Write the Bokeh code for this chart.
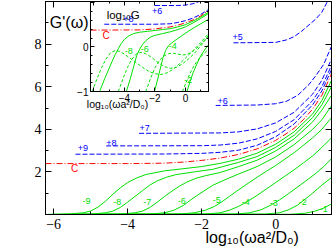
from bokeh.plotting import figure
from bokeh.models import Range1d, LinearAxis, FixedTicker
from bokeh.layouts import column
from bokeh.core.properties import value
from bokeh.embed import file_html
from bokeh.resources import INLINE

# ---------------- main panel: G'(omega) versus log10(omega a^2/D0) ----------------
# liquid side (green, solid)
liq_m9_x = [-6.22, -5.6, -5.2, -5.0, -4.8, -4.6, -4.4, -4.2, -4.0, -3.75, -3.5, -3.0, -2.5, -2.0, -1.5, -1.0, -0.5, 0.0, 0.5, 1.0, 1.25, 1.51]
liq_m9_y = [0.0, 0.02, 0.08, 0.16, 0.35, 0.62, 0.95, 1.25, 1.5, 1.72, 1.88, 2.05, 2.15, 2.25, 2.4, 2.6, 2.88, 3.3, 3.88, 4.72, 5.35, 6.3]
liq_m8_x = [-6.22, -5.0, -4.6, -4.4, -4.2, -4.0, -3.8, -3.6, -3.4, -3.2, -2.95, -2.7, -2.2, -1.7, -1.0, -0.5, 0.0, 0.5, 1.0, 1.25, 1.51]
liq_m8_y = [0.0, 0.02, 0.08, 0.16, 0.33, 0.58, 0.85, 1.12, 1.38, 1.58, 1.75, 1.87, 2.0, 2.12, 2.45, 2.72, 3.15, 3.72, 4.55, 5.15, 6.0]
liq_m7_x = [-6.22, -4.2, -3.8, -3.6, -3.4, -3.2, -3.0, -2.8, -2.6, -2.4, -2.15, -1.9, -1.5, -1.0, -0.5, 0.0, 0.5, 1.0, 1.25, 1.51]
liq_m7_y = [0.0, 0.02, 0.08, 0.16, 0.33, 0.58, 0.85, 1.1, 1.33, 1.52, 1.7, 1.82, 1.97, 2.25, 2.55, 2.98, 3.55, 4.35, 4.9, 5.6]
liq_m6_x = [-6.22, -3.4, -3.0, -2.75, -2.5, -2.3, -2.1, -1.9, -1.7, -1.5, -1.25, -1.0, -0.5, 0.0, 0.5, 1.0, 1.25, 1.51]
liq_m6_y = [0.0, 0.02, 0.08, 0.2, 0.42, 0.68, 0.92, 1.15, 1.37, 1.53, 1.72, 1.9, 2.25, 2.7, 3.28, 4.0, 4.45, 5.1]
liq_m5_x = [-6.22, -2.6, -2.2, -1.9, -1.65, -1.45, -1.25, -1.05, -0.8, -0.5, -0.25, 0.0, 0.5, 1.0, 1.25, 1.51]
liq_m5_y = [0.0, 0.02, 0.08, 0.2, 0.38, 0.6, 0.85, 1.1, 1.4, 1.75, 2.03, 2.3, 2.9, 3.6, 4.0, 4.55]
liq_m4_x = [-6.22, -1.9, -1.5, -1.25, -1.0, -0.75, -0.5, -0.25, 0.0, 0.25, 0.5, 0.75, 1.0, 1.25, 1.51]
liq_m4_y = [0.0, 0.02, 0.08, 0.2, 0.38, 0.62, 0.9, 1.2, 1.5, 1.8, 2.1, 2.42, 2.75, 3.15, 3.6]
liq_m3_x = [-6.22, -1.1, -0.7, -0.4, -0.15, 0.1, 0.35, 0.6, 0.85, 1.1, 1.3, 1.51]
liq_m3_y = [0.0, 0.02, 0.08, 0.22, 0.42, 0.68, 0.98, 1.3, 1.62, 1.95, 2.25, 2.62]
liq_m2_x = [-6.22, -0.3, 0.1, 0.35, 0.6, 0.8, 1.0, 1.25, 1.51]
liq_m2_y = [0.0, 0.02, 0.08, 0.22, 0.45, 0.72, 1.0, 1.38, 1.73]
liq_m1_x = [-6.22, 0.4, 0.8, 1.05, 1.3, 1.51]
liq_m1_y = [0.0, 0.01, 0.06, 0.15, 0.3, 0.5]

# critical (red, dash-dot)
crit_x = [-6.22, -4.0, -3.0, -2.5, -2.0, -1.5, -1.0, -0.5, 0.0, 0.25, 0.5, 0.75, 1.0, 1.25, 1.51]
crit_y = [2.39, 2.39, 2.41, 2.46, 2.54, 2.65, 2.82, 3.08, 3.48, 3.75, 4.05, 4.45, 4.95, 5.6, 6.6]

# glass side (blue, dashed)
gl_p9_x = [-5.41, -3.0, -2.0, -1.5, -1.0, -0.5, 0.0, 0.5, 1.0, 1.25, 1.51]
gl_p9_y = [2.83, 2.84, 2.87, 2.92, 3.02, 3.25, 3.65, 4.25, 5.15, 5.8, 6.8]
gl_p8_x = [-4.58, -2.0, -1.5, -1.0, -0.5, 0.0, 0.5, 1.0, 1.25, 1.51]
gl_p8_y = [3.22, 3.23, 3.26, 3.35, 3.55, 3.9, 4.45, 5.35, 6.0, 7.0]
gl_p7_x = [-3.69, -1.5, -1.0, -0.5, 0.0, 0.5, 1.0, 1.25, 1.51]
gl_p7_y = [3.81, 3.83, 3.88, 4.02, 4.3, 4.8, 5.65, 6.3, 7.3]
gl_p6_x = [-1.62, -0.5, 0.0, 0.3, 0.6, 0.9, 1.1, 1.3, 1.51]
gl_p6_y = [5.12, 5.14, 5.2, 5.32, 5.6, 6.1, 6.55, 7.05, 7.9]
gl_p5_x = [-1.14, 0.0, 0.3, 0.5, 0.7, 0.9, 1.1, 1.25, 1.4, 1.51]
gl_p5_y = [8.06, 8.08, 8.2, 8.35, 8.6, 8.9, 9.2, 9.5, 10.0, 10.4]

# curve tags
liq_tags = ["-9", "-8", "-7", "-6", "-5", "-4", "-3", "-2", "-1"]
liq_tag_x = [-5.11, -4.28, -3.47, -2.54, -1.59, -0.81, -0.05, 0.73, 1.30]
liq_tag_y = [0.65, 0.6, 0.6, 0.64, 0.67, 0.6, 0.56, 0.59, 0.26]
gl_tags = ["+9", "+8", "+7", "+6", "+5"]
gl_tag_x = [-5.21, -4.44, -3.54, -1.43, -1.03]
gl_tag_y = [3.14, 3.37, 4.05, 5.32, 8.33]
crit_tag = ["C"]
crit_tag_x = [-5.43]
crit_tag_y = [2.14]

# ---------------- inset: log10 G versus log10(omega a^2/D0) ----------------
# solid = log10 G', dashed = log10 G''
in_s8_x = [-5.62, -5.3, -5.0, -4.8, -4.6, -4.4, -4.2, -4.0, -3.7, -3.4, -3.0, -2.5, -2.0, -1.5, -1.0, -0.5, 0.0, 0.5, 1.0, 1.51]
in_s8_y = [-1.0, -0.72, -0.48, -0.32, -0.17, -0.04, 0.08, 0.17, 0.25, 0.3, 0.33, 0.35, 0.37, 0.39, 0.41, 0.45, 0.5, 0.58, 0.67, 0.78]
in_s6_x = [-3.87, -3.6, -3.4, -3.2, -3.0, -2.8, -2.6, -2.3, -2.0, -1.5, -1.0, -0.5, 0.0, 0.5, 1.0, 1.51]
in_s6_y = [-1.0, -0.7, -0.45, -0.2, -0.05, 0.06, 0.14, 0.22, 0.26, 0.3, 0.34, 0.39, 0.45, 0.54, 0.64, 0.75]
in_s4_x = [-2.03, -1.8, -1.6, -1.47, -1.3, -1.1, -0.9, -0.74, -0.5, -0.2, 0.18, 0.6, 1.0, 1.51]
in_s4_y = [-1.0, -0.7, -0.42, -0.24, -0.08, 0.03, 0.09, 0.13, 0.19, 0.26, 0.35, 0.44, 0.52, 0.62]
in_s2_x = [0.1, 0.3, 0.5, 0.75, 1.0, 1.25, 1.51]
in_s2_y = [-1.0, -0.78, -0.58, -0.38, -0.2, -0.07, 0.05]
in_d8_x = [-6.1, -5.8, -5.5, -5.2, -4.9, -4.6, -4.3, -4.0, -3.6, -3.2, -2.8, -2.4, -2.0, -1.6, -1.2, -0.8, -0.4, 0.0, 0.5, 1.0, 1.51]
in_d8_y = [-1.0, -0.72, -0.47, -0.27, -0.13, -0.08, -0.1, -0.16, -0.26, -0.36, -0.46, -0.55, -0.6, -0.62, -0.58, -0.5, -0.38, -0.25, -0.08, 0.1, 0.3]
in_d6_x = [-4.4, -4.1, -3.8, -3.5, -3.2, -2.9, -2.6, -2.2, -1.8, -1.4, -1.0, -0.6, -0.2, 0.2, 0.6, 1.0, 1.51]
in_d6_y = [-1.0, -0.72, -0.46, -0.27, -0.15, -0.12, -0.15, -0.24, -0.35, -0.44, -0.48, -0.46, -0.38, -0.27, -0.14, 0.02, 0.25]
in_d4_x = [-2.6, -2.3, -2.0, -1.7, -1.4, -1.1, -0.8, -0.5, -0.2, 0.1, 0.4, 0.7, 1.0, 1.51]
in_d4_y = [-1.0, -0.72, -0.47, -0.3, -0.2, -0.15, -0.14, -0.16, -0.18, -0.17, -0.12, -0.04, 0.06, 0.25]
in_d2_x = [-0.2, 0.1, 0.4, 0.7, 1.0, 1.51]
in_d2_y = [-1.0, -0.75, -0.52, -0.35, -0.22, -0.05]
in_crit_x = [-6.22, -3.0, -2.0, -1.0, -0.5, 0.0, 0.5, 1.0, 1.51]
in_crit_y = [0.378, 0.382, 0.405, 0.45, 0.488, 0.542, 0.607, 0.695, 0.82]
in_p8_x = [-5.32, -2.0, -1.0, -0.5, 0.0, 0.5, 1.0, 1.51]
in_p8_y = [0.51, 0.51, 0.52, 0.55, 0.59, 0.65, 0.73, 0.84]
in_p6_x = [-2.0, -0.5, 0.0, 0.5, 0.9]
in_p6_y = [0.93, 0.93, 0.94, 0.97, 1.02]

in_liq_tags = ["-8", "-6", "-4", "-2"]
in_liq_tag_x = [-3.72, -2.67, -0.83, 0.18]
in_liq_tag_y = [-0.08, -0.04, 0.02, -0.75]
in_gl_tags = ["+8", "+6"]
in_gl_tag_x = [-3.74, -1.86]
in_gl_tag_y = [0.62, 0.81]
in_crit_tag = ["C"]
in_crit_tag_x = [-5.19]
in_crit_tag_y = [0.25]

# axis titles (text, placed on a transparent page-sized overlay in pixel units)
titles = ["G'(ω)", "log₁₀(ωa²/D₀)", "log₁₀(ωa²/D₀)", "log₁₀G"]

GREEN = "#00e000"
BLUE = "#0000ff"
RED = "#ff0000"
SANS = "Liberation Sans"
SERIF = "Liberation Serif"


def style_axis(ax, font, size, show_labels=True, tin=6, mtin=3, standoff=4):
    ax.major_tick_in = tin
    ax.major_tick_out = 0
    ax.minor_tick_in = mtin
    ax.minor_tick_out = 0
    ax.axis_line_color = "black"
    ax.major_tick_line_color = "black"
    ax.minor_tick_line_color = "black"
    ax.major_label_text_font = font
    ax.major_label_text_color = "black"
    if show_labels:
        ax.major_label_text_font_size = size
        ax.major_label_standoff = standoff
    else:
        ax.major_label_text_font_size = "0px"
        ax.major_label_standoff = 0
        ax.major_label_text_alpha = 0


# ---------------- main figure ----------------
p = figure(width=332, height=246, x_range=Range1d(-6.22, 1.51), y_range=Range1d(0, 10),
           output_backend="svg", toolbar_location=None,
           min_border_left=45, min_border_right=1, min_border_top=1, min_border_bottom=32,
           x_axis_location=None, y_axis_location=None)
p.xgrid.visible = False
p.ygrid.visible = False
p.outline_line_color = "black"
p.background_fill_color = "white"
p.border_fill_color = "white"

xt = FixedTicker(ticks=[-6, -4, -2, 0], minor_ticks=[-6, -5, -4, -3, -2, -1, 0, 1])
yt = FixedTicker(ticks=[0, 2, 4, 6, 8, 10], minor_ticks=[1, 3, 5, 7, 9])
for loc, lab in (("below", True), ("above", False)):
    ax = LinearAxis(ticker=xt)
    style_axis(ax, SERIF, "14px", lab)
    p.add_layout(ax, loc)
for loc, lab in (("left", True), ("right", False)):
    ax = LinearAxis(ticker=yt, major_label_overrides={0: "", 10: ""})
    style_axis(ax, SERIF, "14px", lab)
    p.add_layout(ax, loc)

liq = [(liq_m9_x, liq_m9_y), (liq_m8_x, liq_m8_y), (liq_m7_x, liq_m7_y), (liq_m6_x, liq_m6_y),
       (liq_m5_x, liq_m5_y), (liq_m4_x, liq_m4_y), (liq_m3_x, liq_m3_y), (liq_m2_x, liq_m2_y),
       (liq_m1_x, liq_m1_y)]
for xs, ys in liq:
    p.line(xs, ys, line_color=GREEN, line_width=1)
p.line(crit_x, crit_y, line_color=RED, line_width=1, line_dash="6 2 1 2")
for xs, ys in [(gl_p9_x, gl_p9_y), (gl_p8_x, gl_p8_y), (gl_p7_x, gl_p7_y), (gl_p6_x, gl_p6_y), (gl_p5_x, gl_p5_y)]:
    p.line(xs, ys, line_color=BLUE, line_width=1, line_dash="5 2")

p.text(x=liq_tag_x, y=liq_tag_y, text=liq_tags, text_color=GREEN, text_font=value(SANS),
       text_font_size="9px", text_align="center", text_baseline="middle")
p.text(x=gl_tag_x, y=gl_tag_y, text=gl_tags, text_color=BLUE, text_font=value(SANS),
       text_font_size="9px", text_align="center", text_baseline="middle")
p.text(x=crit_tag_x, y=crit_tag_y, text=crit_tag, text_color=RED, text_font=value(SANS),
       text_font_size="10px", text_align="center", text_baseline="middle")

# ---------------- inset figure ----------------
ins = figure(width=164, height=107, x_range=Range1d(-6.22, 1.51), y_range=Range1d(-1.0, 1.02),
             output_backend="svg", toolbar_location=None,
             min_border_left=23, min_border_right=1, min_border_top=1, min_border_bottom=16,
             x_axis_location=None, y_axis_location=None)
ins.xgrid.visible = False
ins.ygrid.visible = False
ins.outline_line_color = "black"
ins.background_fill_color = "white"
ins.border_fill_alpha = 0
ins.margin = (-246, 0, 0, 45)

ixt = FixedTicker(ticks=[-6, -4, -2, 0], minor_ticks=[-6, -5, -4, -3, -2, -1, 0, 1])
iyt = FixedTicker(ticks=[-1, 0, 1], minor_ticks=[-0.8, -0.6, -0.4, -0.2, 0.2, 0.4, 0.6, 0.8])
for loc, lab in (("below", True), ("above", False)):
    ax = LinearAxis(ticker=ixt, major_label_overrides={-6: ""})
    style_axis(ax, SANS, "10px", lab, tin=4, mtin=2, standoff=2)
    ins.add_layout(ax, loc)
for loc, lab in (("left", True), ("right", False)):
    ax = LinearAxis(ticker=iyt, major_label_overrides={1: ""})
    style_axis(ax, SANS, "10px", lab, tin=4, mtin=2, standoff=2)
    ins.add_layout(ax, loc)

for xs, ys in [(in_s8_x, in_s8_y), (in_s6_x, in_s6_y), (in_s4_x, in_s4_y), (in_s2_x, in_s2_y)]:
    ins.line(xs, ys, line_color=GREEN, line_width=1)
for xs, ys in [(in_d8_x, in_d8_y), (in_d6_x, in_d6_y), (in_d4_x, in_d4_y), (in_d2_x, in_d2_y)]:
    ins.line(xs, ys, line_color=GREEN, line_width=1, line_dash="3 2")
ins.line(in_crit_x, in_crit_y, line_color=RED, line_width=1, line_dash="6 2 1 2")
for xs, ys in [(in_p8_x, in_p8_y), (in_p6_x, in_p6_y)]:
    ins.line(xs, ys, line_color=BLUE, line_width=1, line_dash="5 2")

ins.text(x=in_liq_tag_x, y=in_liq_tag_y, text=in_liq_tags, text_color=GREEN, text_font=value(SANS),
         text_font_size="9px", text_align="center", text_baseline="middle")
ins.text(x=in_gl_tag_x, y=in_gl_tag_y, text=in_gl_tags, text_color=BLUE, text_font=value(SANS),
         text_font_size="9px", text_align="center", text_baseline="middle")
ins.text(x=in_crit_tag_x, y=in_crit_tag_y, text=in_crit_tag, text_color=RED, text_font=value(SANS),
         text_font_size="10px", text_align="center", text_baseline="middle")

# ---------------- transparent overlay carrying the axis titles ----------------
ov = figure(width=332, height=246, x_range=Range1d(0, 332), y_range=Range1d(246, 0),
            output_backend="svg", toolbar_location=None,
            min_border_left=0, min_border_right=0, min_border_top=0, min_border_bottom=0,
            x_axis_location=None, y_axis_location=None)
ov.xgrid.visible = False
ov.ygrid.visible = False
ov.outline_line_color = None
ov.background_fill_alpha = 0
ov.border_fill_alpha = 0
ov.margin = (-107, 0, 0, 0)

ov.text(x=[5], y=[22], text=[titles[0]], text_font=value(SANS), text_font_size="16px",
        text_color="black", text_align="left", text_baseline="alphabetic")
ov.text(x=[240], y=[237], text=[titles[1]], text_font=value(SANS), text_font_size="16px",
        text_color="black", text_align="center", text_baseline="alphabetic")
ov.text(x=[48], y=[103], text=[titles[2]], text_font=value(SANS), text_font_size="10.5px",
        text_color="black", text_align="left", text_baseline="alphabetic")
ov.text(x=[71], y=[14], text=[titles[3]], text_font=value(SANS), text_font_size="11.5px",
        text_color="black", text_align="left", text_baseline="alphabetic")

layout = column(p, ins, ov)
open("out.html", "w").write(file_html(layout, INLINE))
